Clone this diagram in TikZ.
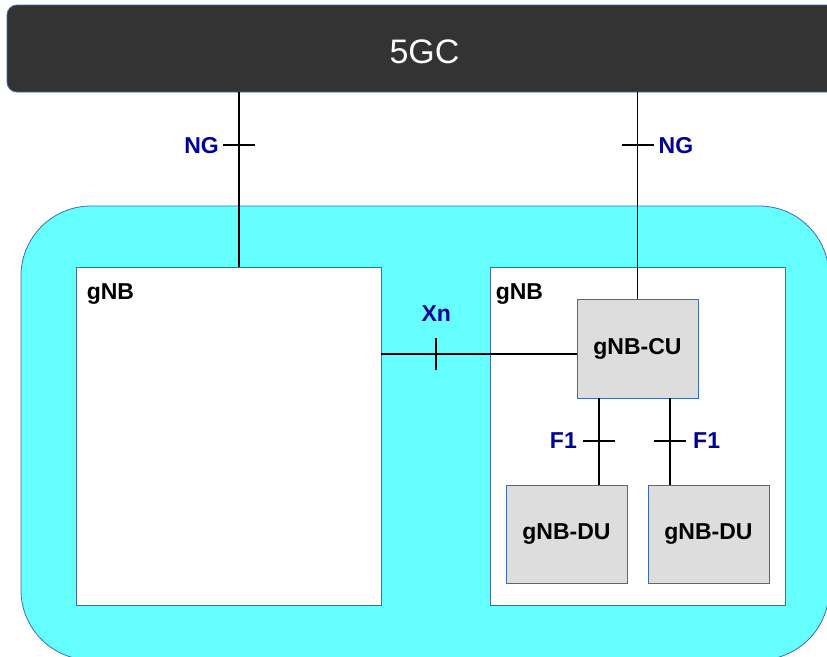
\documentclass[tikz,border=0pt]{standalone}
\usepackage{fontspec}
\setmainfont{Liberation Sans}
\usetikzlibrary{positioning,calc}
\definecolor{corebg}{HTML}{333333}
\definecolor{rancyan}{HTML}{66FFFF}
\definecolor{edge}{HTML}{3D6AB3}
\definecolor{unitgrey}{HTML}{DDDDDD}
\definecolor{ifblue}{HTML}{000099}

\begin{document}
\begin{tikzpicture}[x=1pt,y=-1pt,
    box/.style={draw=edge,line width=0.8pt,rectangle,inner sep=0pt},
    unit/.style={box,fill=unitgrey,minimum width=121pt,minimum height=98pt,
                 font=\fontsize{23}{27}\selectfont\bfseries},
    nbname/.style={inner sep=0pt,font=\fontsize{23}{27}\selectfont\bfseries},
    iface/.style={ifblue,inner sep=0pt,font=\fontsize{23}{27}\selectfont\bfseries},
    link/.style={line width=1.6pt}]
    \useasboundingbox (0,0) rectangle (827,656);
    \clip (0,0) rectangle (827,656);
    % core network along the top
    \node[box,fill=corebg,rounded corners=10pt,minimum width=835pt,minimum height=87pt,
          text=white,text height=30pt,text depth=0pt,font=\fontsize{34}{40}\selectfont] (core) at (424.5,48.5) {5GC};
    % radio access area with the two gNBs
    \node[box,fill=rancyan,rounded corners=70pt,minimum width=808pt,minimum height=454pt] (ran) at (425,433) {};
    \node[box,fill=white,minimum width=305pt,minimum height=338pt] (gnbL) at (228.5,436) {};
    \node[box,fill=white,minimum width=295pt,minimum height=338pt] (gnbR) at (637.5,436) {};
    \node[nbname,anchor=base west] at ([shift={(11,33)}]gnbL.north west) {gNB};
    \node[nbname,anchor=base west] at ([shift={(6,33)}]gnbR.north west) {gNB};
    \node[unit,minimum height=99pt] (cu) at (637.5,348.5) {gNB-CU};
    \node[unit] (duL) at (566.5,534) {gNB-DU};
    \node[unit] (duR) at (708.5,534) {gNB-DU};

    % NG towards the core
    \coordinate (ngLa) at ([xshift=10.5]gnbL.north);
    \draw[link] (ngLa) -- (ngLa |- core.south) coordinate[pos=0.697] (ngLt);
    \draw[link] ([xshift=-16]ngLt) -- ([xshift=16]ngLt);
    \node[iface,anchor=east] at ([xshift=-20]ngLt) {NG};
    \draw[link] (cu.north) -- (cu.north |- core.south) coordinate[pos=0.744] (ngRt);
    \draw[link] ([xshift=-16]ngRt) -- ([xshift=16]ngRt);
    \node[iface,anchor=west] at ([xshift=21]ngRt) {NG};

    % Xn between the gNBs
    \coordinate (xnA) at ([yshift=-5.5]cu.west);
    \draw[link] (xnA) -- (xnA -| gnbL.east) coordinate[pos=0.719] (xnT);
    \draw[link] ([yshift=-16]xnT) -- ([yshift=16]xnT);
    \node[iface,anchor=south] at ([yshift=32]xnT) {Xn};

    % F1 from CU to each DU
    \coordinate (f1La) at ([xshift=32.5]duL.north);
    \draw[link] (f1La) -- (f1La |- cu.south) coordinate[pos=0.506] (f1Lt);
    \draw[link] ([xshift=-16]f1Lt) -- ([xshift=16]f1Lt);
    \node[iface,anchor=east] at ([xshift=-22]f1Lt) {F1};
    \coordinate (f1Ra) at ([xshift=-38.5]duR.north);
    \draw[link] (f1Ra) -- (f1Ra |- cu.south) coordinate[pos=0.506] (f1Rt);
    \draw[link] ([xshift=-16]f1Rt) -- ([xshift=16]f1Rt);
    \node[iface,anchor=west] at ([xshift=23]f1Rt) {F1};
\end{tikzpicture}
\end{document}
